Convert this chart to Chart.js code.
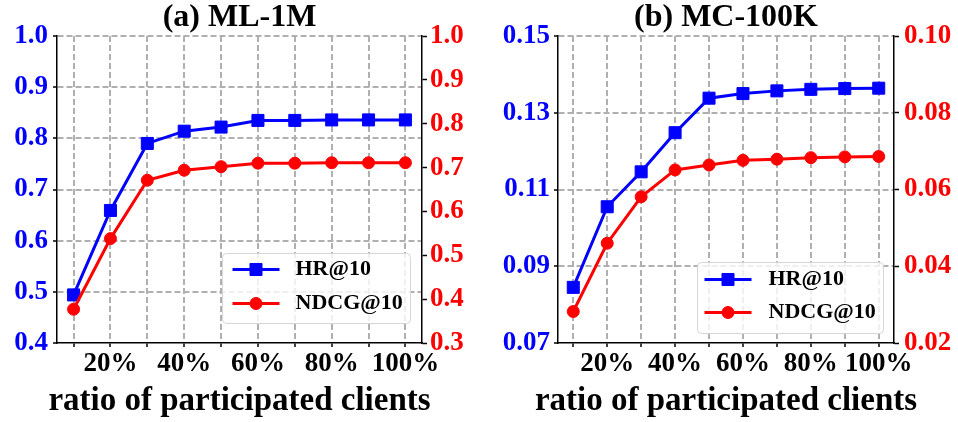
<!DOCTYPE html>
<html>
<head>
<meta charset="utf-8">
<script src="https://cdn.jsdelivr.net/npm/chart.js@4.4.0/dist/chart.umd.min.js"></script>
<style>
  html, body { margin: 0; padding: 0; background: #fff; }
  #wrap { position: relative; width: 958px; height: 422px; overflow: hidden; }
  canvas { position: absolute; top: 0; }
</style>
</head>
<body>
<div id="wrap">
  <canvas id="ml" width="479" height="422" style="left:0px"></canvas>
  <canvas id="mc" width="464" height="422" style="left:494px"></canvas>
</div>
<script>
// Share of clients taking part in each training round (percent)
const ratios = [10, 20, 30, 40, 50, 60, 70, 80, 90, 100];
const ratioLabels = ['', '20%', '', '40%', '', '60%', '', '80%', '', '100%'];
const xCaption = 'ratio of participated clients';
const seriesNames = ['HR@10', 'NDCG@10'];

// ML-1M results
const mlHR   = [0.494, 0.659, 0.790, 0.814, 0.822, 0.835, 0.835, 0.836, 0.836, 0.836];
const mlNDCG = [0.377, 0.538, 0.671, 0.694, 0.702, 0.710, 0.710, 0.711, 0.711, 0.711];
const mlHRTicks   = [0.4, 0.5, 0.6, 0.7, 0.8, 0.9, 1.0];
const mlNDCGTicks = [0.3, 0.4, 0.5, 0.6, 0.7, 0.8, 0.9, 1.0];

// MC-100K results
const mcHR   = [0.0845, 0.1055, 0.1146, 0.1248, 0.1338, 0.1350, 0.1357, 0.1361, 0.1363, 0.1364];
const mcNDCG = [0.0282, 0.0460, 0.0581, 0.0651, 0.0664, 0.0676, 0.0679, 0.0683, 0.0685, 0.0686];
const mcHRTicks   = [0.07, 0.09, 0.11, 0.13, 0.15];
const mcNDCGTicks = [0.02, 0.04, 0.06, 0.08, 0.10];

const BLUE = '#0000ff';
const RED = '#ff0000';
const GRID = '#b0b0b0';
const FAMILY = '"Liberation Serif", "Times New Roman", serif';

Chart.defaults.font.family = FAMILY;
Chart.defaults.font.weight = 'bold';

// Legend box drawn inside the plot area, bottom-right corner
const insideLegend = {
  id: 'insideLegend',
  afterDatasetsDraw(chart, args, o) {
    const { ctx, chartArea: a } = chart;
    const x0 = Math.round(a.right - o.right - o.width) + 0.5;
    const y0 = Math.round(a.bottom - o.bottom - o.height) + 0.5;
    ctx.save();
    ctx.beginPath();
    ctx.roundRect(x0, y0, o.width, o.height, 4);
    ctx.fillStyle = 'rgba(255,255,255,0.8)';
    ctx.fill();
    ctx.strokeStyle = '#d6d6d6';
    ctx.lineWidth = 1;
    ctx.stroke();
    chart.data.datasets.forEach((ds, i) => {
      const cy = y0 + o.firstRow + i * o.rowGap;
      const lx = x0 + o.lineStart;
      ctx.strokeStyle = ds.borderColor;
      ctx.lineWidth = ds.borderWidth;
      ctx.beginPath();
      ctx.moveTo(lx, cy);
      ctx.lineTo(lx + o.lineLen, cy);
      ctx.stroke();
      ctx.fillStyle = ds.pointBackgroundColor;
      ctx.strokeStyle = ds.pointBorderColor;
      ctx.lineWidth = ds.pointBorderWidth;
      Chart.helpers.drawPoint(ctx, {
        pointStyle: ds.pointStyle, radius: ds.pointRadius,
        borderWidth: ds.pointBorderWidth, rotation: 0
      }, lx + o.lineLen / 2, cy);
      ctx.fillStyle = '#000';
      ctx.font = 'bold ' + o.fontSize + 'px ' + FAMILY;
      ctx.textBaseline = 'middle';
      ctx.textAlign = 'left';
      ctx.fillText(ds.label, x0 + o.textStart, cy);
    });
    ctx.restore();
  }
};

// x-axis caption, centred under the plot area and allowed to run wider than it
const axisCaption = {
  id: 'axisCaption',
  afterDraw(chart, args, o) {
    const { ctx, chartArea: a } = chart;
    ctx.save();
    ctx.fillStyle = '#000';
    ctx.font = 'bold ' + o.fontSize + 'px ' + FAMILY;
    ctx.textAlign = 'center';
    ctx.textBaseline = 'alphabetic';
    ctx.fillText(o.text, (a.left + a.right) / 2, o.baseline);
    ctx.restore();
  }
};

function buildChart(id, title, hr, ndcg, leftTicks, rightTicks, decimals, frame) {
  const xStep = ratios[1] - ratios[0];
  const xMin = ratios[0] - 0.45 * xStep;
  const xMax = ratios[ratios.length - 1] + 0.45 * xStep;
  const leftMin = leftTicks[0];

  const pts = vals => vals.map((v, i) => ({ x: ratios[i], y: v }));

  return new Chart(document.getElementById(id), {
    type: 'line',
    data: {
      datasets: [
        {
          label: seriesNames[0], data: pts(hr), yAxisID: 'yl', order: 1,
          borderColor: BLUE, backgroundColor: BLUE, borderWidth: 3,
          pointStyle: 'rect', pointRadius: 8.5, pointBorderWidth: 1,
          pointBackgroundColor: BLUE, pointBorderColor: BLUE, tension: 0
        },
        {
          label: seriesNames[1], data: pts(ndcg), yAxisID: 'yr', order: 0,
          borderColor: RED, backgroundColor: RED, borderWidth: 3,
          pointStyle: 'circle', pointRadius: 6, pointBorderWidth: 1,
          pointBackgroundColor: RED, pointBorderColor: RED, tension: 0
        }
      ]
    },
    options: {
      responsive: false,
      animation: false,
      events: [],
      layout: { padding: 0 },
      scales: {
        x: {
          type: 'linear', position: 'bottom', min: xMin, max: xMax,
          afterBuildTicks: s => { s.ticks = ratios.map(v => ({ value: v })); },
          afterFit: s => { s.height = 79; },
          ticks: {
            autoSkip: false, maxRotation: 0, padding: 1, color: '#000',
            font: { size: 27, weight: 'bold' },
            callback: (v, i) => ratioLabels[i]
          },
          grid: {
            color: GRID, lineWidth: 2, tickColor: '#000', tickWidth: 1.5,
            tickLength: 4, tickBorderDash: []
          },
          border: { color: '#000', width: 1.5, dash: [6, 3] },
          title: { display: false }
        },
        yl: {
          type: 'linear', position: 'left',
          min: leftTicks[0], max: leftTicks[leftTicks.length - 1],
          afterBuildTicks: s => { s.ticks = leftTicks.map(v => ({ value: v })); },
          afterFit: s => { s.width = frame.leftW; },
          ticks: {
            color: BLUE, padding: frame.leftPad, font: { size: 27, weight: 'bold' },
            callback: v => v.toFixed(decimals)
          },
          grid: {
            color: c => (c.tick && Math.abs(c.tick.value - leftMin) < 1e-9) ? 'rgba(0,0,0,0)' : GRID,
            lineWidth: 2, tickColor: '#000', tickWidth: 1.5, tickLength: 4, tickBorderDash: []
          },
          border: { color: '#000', width: 1.5, dash: [6, 3] }
        },
        yr: {
          type: 'linear', position: 'right',
          min: rightTicks[0], max: rightTicks[rightTicks.length - 1],
          afterBuildTicks: s => { s.ticks = rightTicks.map(v => ({ value: v })); },
          afterFit: s => { s.width = frame.rightW; },
          ticks: {
            color: RED, padding: frame.rightPad, font: { size: 27, weight: 'bold' },
            callback: v => v.toFixed(decimals)
          },
          grid: {
            drawOnChartArea: false, color: '#000', tickColor: '#000',
            tickWidth: 1.5, tickLength: 5, tickBorderDash: []
          },
          border: { color: '#000', width: 1.5 }
        }
      },
      plugins: {
        legend: { display: false },
        tooltip: { enabled: false },
        title: {
          display: true, text: title, color: '#000',
          font: { size: 32, weight: 'bold', lineHeight: 1.125 }, padding: { top: 0, bottom: 0 }
        },
        insideLegend: frame.legend,
        axisCaption: { text: xCaption, fontSize: 33, baseline: 410 }
      }
    },
    plugins: [insideLegend, axisCaption]
  });
}

buildChart('ml', '(a) ML-1M', mlHR, mlNDCG, mlHRTicks, mlNDCGTicks, 1, {
  leftW: 57, rightW: 57, leftPad: 5, rightPad: 3,
  legend: { right: 12, bottom: 20, width: 188, height: 70, lineStart: 10, lineLen: 47,
            textStart: 73, firstRow: 16, rowGap: 34, fontSize: 22 }
});

buildChart('mc', '(b) MC-100K', mcHR, mcNDCG, mcHRTicks, mcNDCGTicks, 2, {
  leftW: 64, rightW: 64, leftPad: 4, rightPad: 5,
  legend: { right: 11, bottom: 10, width: 186, height: 71, lineStart: 7, lineLen: 47,
            textStart: 71, firstRow: 17, rowGap: 33, fontSize: 22 }
});
</script>
</body>
</html>
